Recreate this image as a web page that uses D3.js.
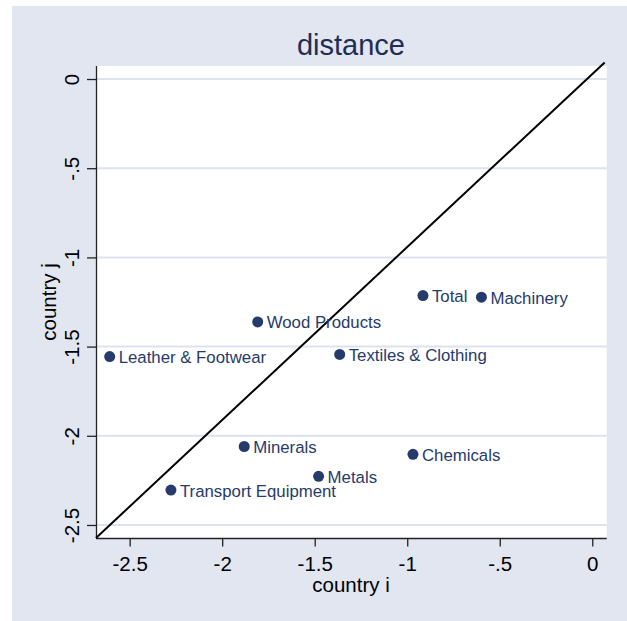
<!DOCTYPE html>
<html>
<head>
<meta charset="utf-8">
<script src="https://cdn.jsdelivr.net/npm/d3@7"></script>
<style>
  html, body { margin: 0; padding: 0; background: #ffffff; }
  svg { display: block; }
  text { font-family: "Liberation Sans", Arial, sans-serif; }
</style>
</head>
<body>
<script>
// ---- data ----
const categories = ["Total", "Machinery", "Wood Products", "Leather & Footwear", "Textiles & Clothing",
                    "Minerals", "Chemicals", "Metals", "Transport Equipment"];
const countryI = [-0.915, -0.599, -1.808, -2.608, -1.365, -1.881, -0.969, -1.479, -2.277];
const countryJ = [-1.214, -1.223, -1.362, -1.556, -1.544, -2.060, -2.104, -2.227, -2.304];
const xTicks = [-2.5, -2, -1.5, -1, -0.5, 0];
const xTickLabels = ["-2.5", "-2", "-1.5", "-1", "-.5", "0"];
const yTicks = [0, -0.5, -1, -1.5, -2, -2.5];
const yTickLabels = ["0", "-.5", "-1", "-1.5", "-2", "-2.5"];
const refLineX = [-2.682, 0.067];
const refLineY = [-2.573, 0.093];
const xDomain = [-2.682, 0.078];
const yDomain = [-2.573, 0.073];
const titleText = "distance";
const xTitle = "country i";
const yTitle = "country j";

// ---- layout ----
const W = 627, H = 621;
const bg = "#e1e6f0", navy = "#263b6c", grid = "#dde3ee";
const pl = 96, pr = 606.7, pt = 66, pb = 538;

const svg = d3.select("body").append("svg").attr("width", W).attr("height", H);
svg.append("rect").attr("x", 12).attr("y", 6).attr("width", W - 12).attr("height", H - 6).attr("fill", bg);
svg.append("rect").attr("x", pl).attr("y", pt).attr("width", pr - pl).attr("height", pb - pt).attr("fill", "#ffffff");

const x = d3.scaleLinear().domain(xDomain).range([pl, pr]);
const y = d3.scaleLinear().domain(yDomain).range([pb, pt]);

// gridlines
svg.append("g").selectAll("line").data(yTicks).join("line")
  .attr("x1", pl).attr("x2", pr)
  .attr("y1", d => y(d)).attr("y2", d => y(d))
  .attr("stroke", grid).attr("stroke-width", 2);

// axes
const xAxis = d3.axisBottom(x).tickValues(xTicks).tickSize(8.5).tickPadding(10)
  .tickFormat((d, i) => xTickLabels[i]);
const gx = svg.append("g").attr("transform", `translate(0,${pb})`).call(xAxis);
gx.select(".domain").attr("d", `M${pl},0.5H${pr}`).attr("stroke", "#222").attr("stroke-width", 1.3);
gx.selectAll(".tick line").attr("stroke", "#222").attr("stroke-width", 1.3);
gx.selectAll(".tick text").attr("font-size", 20.5).attr("fill", "#000")
  .attr("font-family", "'Liberation Sans', Arial, sans-serif");

const yAxis = d3.axisLeft(y).tickValues(yTicks).tickSize(9).tickPadding(0)
  .tickFormat((d, i) => yTickLabels[i]);
const gy = svg.append("g").attr("transform", `translate(${pl},0)`).call(yAxis);
gy.select(".domain").attr("d", `M0.5,${pt}V${pb}`).attr("stroke", "#222").attr("stroke-width", 1.3);
gy.selectAll(".tick line").attr("stroke", "#222").attr("stroke-width", 1.3);
gy.selectAll(".tick text")
  .attr("font-size", 20.5).attr("fill", "#000")
  .attr("font-family", "'Liberation Sans', Arial, sans-serif")
  .attr("x", null).attr("dy", null)
  .attr("text-anchor", "middle")
  .attr("transform", "translate(-17,0) rotate(-90)");

// reference line
svg.append("line")
  .attr("x1", x(refLineX[0])).attr("y1", y(refLineY[0]))
  .attr("x2", x(refLineX[1])).attr("y2", y(refLineY[1]))
  .attr("stroke", "#000").attr("stroke-width", 2);

// points
const pts = categories.map((c, i) => ({ c, xi: countryI[i], yj: countryJ[i] }));
svg.append("g").selectAll("circle").data(pts).join("circle")
  .attr("cx", d => x(d.xi)).attr("cy", d => y(d.yj)).attr("r", 5.5).attr("fill", navy);
svg.append("g").selectAll("text").data(pts).join("text")
  .attr("x", d => x(d.xi) + 9).attr("y", d => y(d.yj) + 6.5)
  .attr("font-size", 16.8).attr("fill", navy).text(d => d.c);

// titles
svg.append("text").attr("x", 351).attr("y", 55).attr("text-anchor", "middle")
  .attr("font-size", 29).attr("fill", "#1f2d55").text(titleText);
svg.append("text").attr("x", 351).attr("y", 592).attr("text-anchor", "middle")
  .attr("font-size", 20.5).attr("fill", "#000").text(xTitle);
svg.append("text").attr("transform", `translate(56,302) rotate(-90)`).attr("text-anchor", "middle")
  .attr("font-size", 20.5).attr("fill", "#000").text(yTitle);
</script>
</body>
</html>
